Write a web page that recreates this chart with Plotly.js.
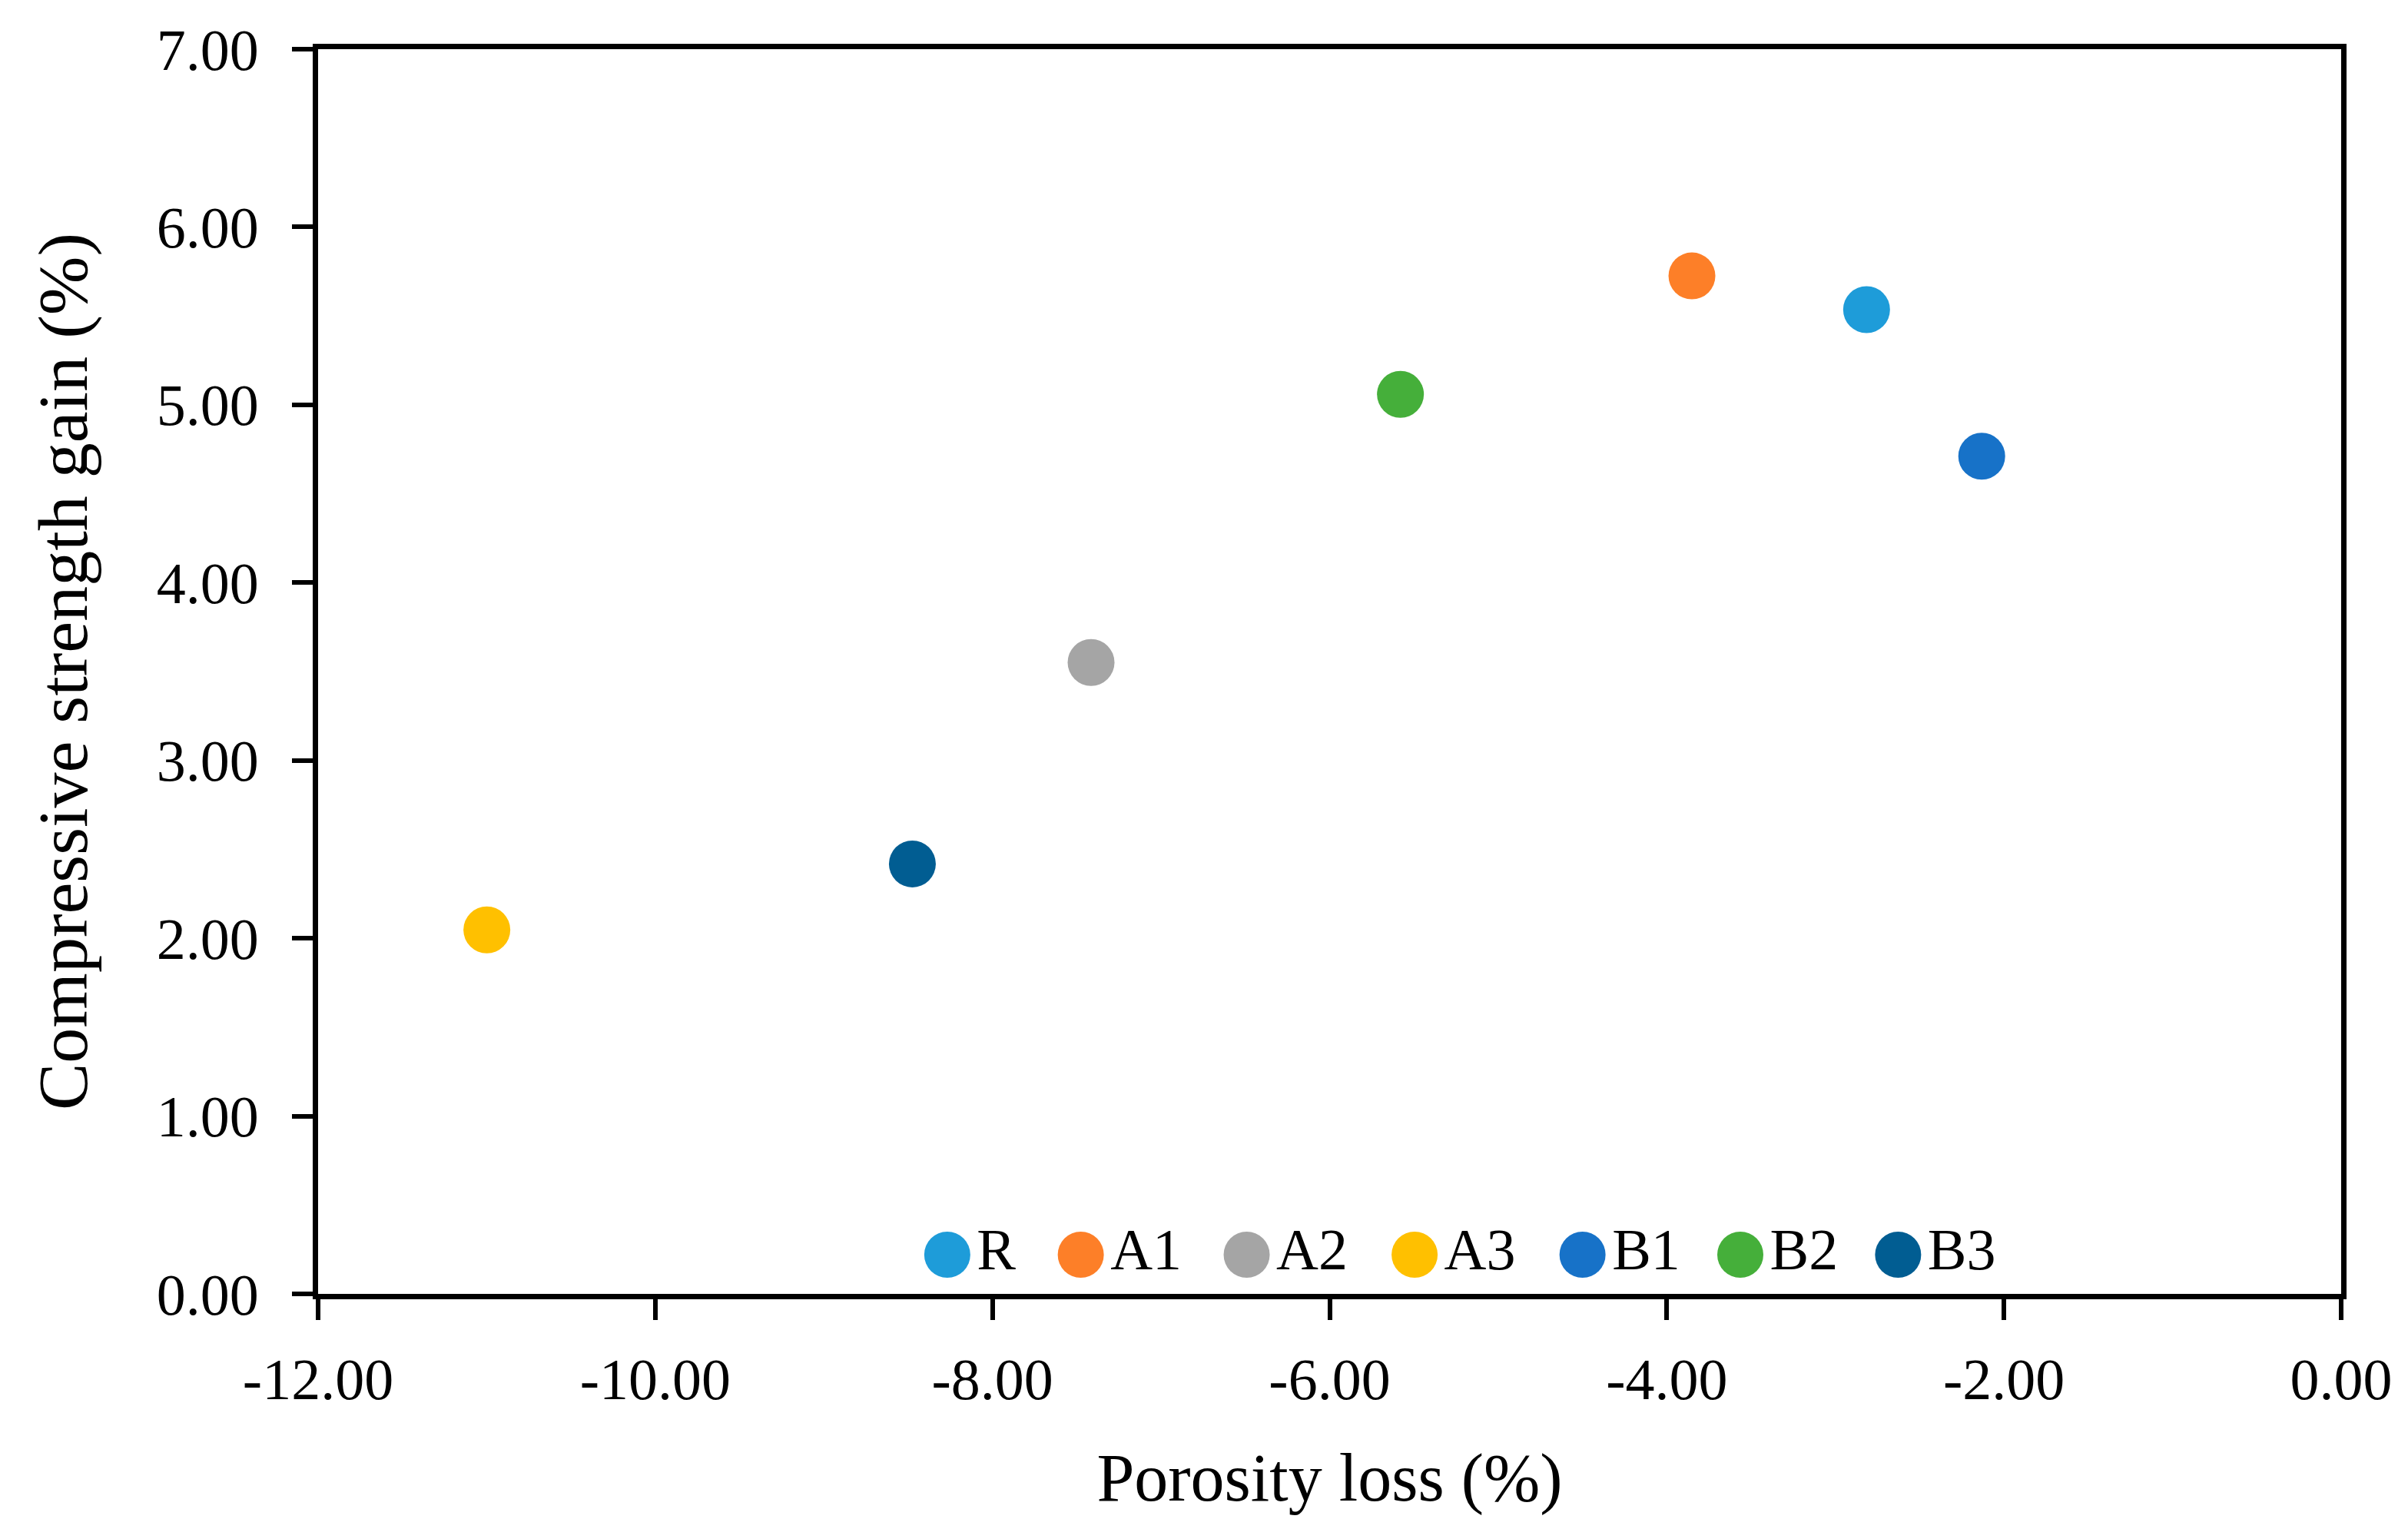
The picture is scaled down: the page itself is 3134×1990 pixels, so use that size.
<!DOCTYPE html>
<html>
<head>
<meta charset="utf-8">
<script src="https://cdn.plot.ly/plotly-3.0.1.min.js"></script>
<style>
  html, body { margin: 0; padding: 0; background: #ffffff; }
  #chart { width: 3134px; height: 1990px; }
</style>
</head>
<body>
<div id="chart"></div>
<script>
// ---- data ----
const samples = ['R', 'A1', 'A2', 'A3', 'B1', 'B2', 'B3'];
const porosityLoss = [-2.815, -3.851, -7.415, -10.999, -2.132, -5.580, -8.475];
const strengthGain = [5.535, 5.725, 3.551, 2.047, 4.711, 5.059, 2.418];
const sampleColors = ['#1E9CD9', '#FD7F28', '#A5A5A5', '#FFC000', '#1772C8', '#45AF3A', '#015D92'];

const xTickVals = [-12, -10, -8, -6, -4, -2, 0];
const xTickText = ['-12.00', '-10.00', '-8.00', '-6.00', '-4.00', '-2.00', '0.00'];
const yTickVals = [0, 1, 2, 3, 4, 5, 6, 7];
const yTickText = ['0.00', '1.00', '2.00', '3.00', '4.00', '5.00', '6.00', '7.00'];

const xTitle = 'Porosity loss (%)';
const yTitle = 'Compressive strength gain (%)';

// ---- legend layout (positions in plot-area fractions) ----
const legendPosX = [0.311, 0.377, 0.459, 0.542, 0.625, 0.703, 0.781];
const legendPosY = 0.0315;

const FONT = '"Liberation Serif", "Times New Roman", serif';

const traces = samples.map((name, i) => ({
  type: 'scatter',
  mode: 'markers',
  name: name,
  x: [porosityLoss[i]],
  y: [strengthGain[i]],
  marker: { color: sampleColors[i], size: 61, line: { width: 0 } },
  showlegend: false,
  cliponaxis: false
}));

// legend drawn as a marker+text trace on an overlay axis pair (0..1 = plot area)
traces.push({
  type: 'scatter',
  mode: 'markers+text',
  xaxis: 'x2',
  yaxis: 'y2',
  x: legendPosX,
  y: samples.map(() => legendPosY),
  text: samples,
  textposition: 'middle right',
  textfont: { family: FONT, size: 76, color: '#000000' },
  marker: { color: sampleColors, size: 60, line: { width: 0 } },
  showlegend: false,
  hoverinfo: 'skip',
  cliponaxis: false
});

const axisCommon = {
  showline: true,
  linecolor: '#000000',
  linewidth: 7,
  mirror: true,
  ticks: 'outside',
  ticklen: 27,
  tickwidth: 6,
  tickcolor: '#000000',
  showgrid: false,
  zeroline: false,
  tickfont: { family: FONT, size: 76, color: '#000000' }
};

const layout = {
  width: 3134,
  height: 1990,
  paper_bgcolor: '#ffffff',
  plot_bgcolor: '#ffffff',
  margin: { l: 414, r: 87, t: 64, b: 306, pad: 0 },
  showlegend: false,
  font: { family: FONT, color: '#000000' },
  xaxis: Object.assign({}, axisCommon, {
    range: [-12, 0],
    tickmode: 'array',
    tickvals: xTickVals,
    ticktext: xTickText,
    ticklabelstandoff: 12,
    title: { text: xTitle, font: { family: FONT, size: 88, color: '#000000' }, standoff: 58 }
  }),
  yaxis: Object.assign({}, axisCommon, {
    range: [0, 7],
    tickmode: 'array',
    tickvals: yTickVals,
    ticktext: yTickText,
    ticklabelstandoff: 28,
    title: { text: yTitle, font: { family: FONT, size: 92, color: '#000000' }, standoff: 62 }
  }),
  xaxis2: { overlaying: 'x', range: [0, 1], visible: false, fixedrange: true },
  yaxis2: { overlaying: 'y', range: [0, 1], visible: false, fixedrange: true }
};

Plotly.newPlot('chart', traces, layout, { staticPlot: true, displayModeBar: false });
</script>
</body>
</html>
